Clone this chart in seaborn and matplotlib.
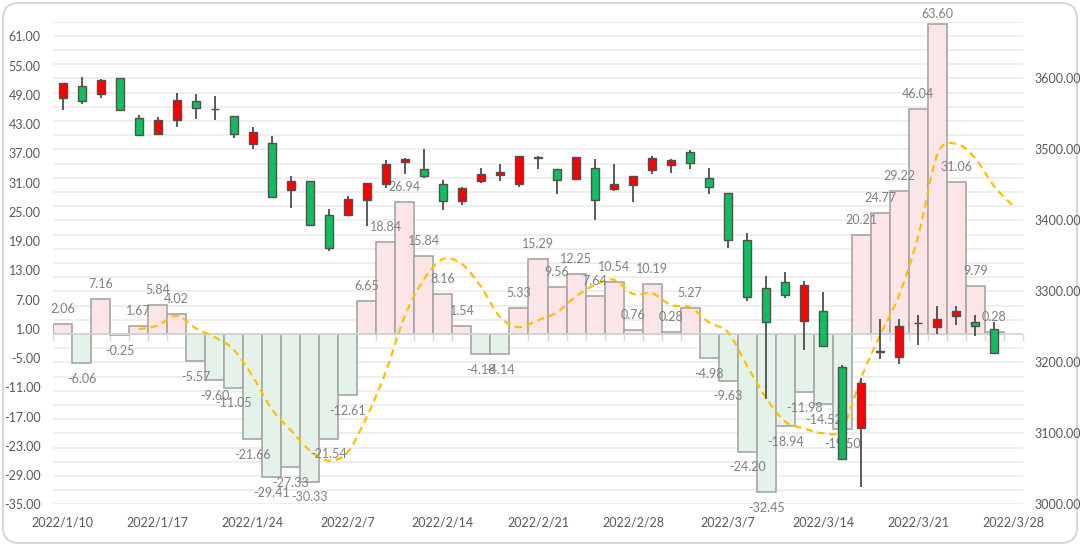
import numpy as np
import pandas as pd
import matplotlib
matplotlib.use("Agg")
import matplotlib.pyplot as plt
import seaborn as sns
from matplotlib.path import Path
from matplotlib.patches import PathPatch, FancyBboxPatch
from matplotlib.transforms import blended_transform_factory
from matplotlib.ticker import FuncFormatter

# ---------------- data ----------------
dates = ["2022/1/10", "2022/1/11", "2022/1/12", "2022/1/13", "2022/1/14",
         "2022/1/17", "2022/1/18", "2022/1/19", "2022/1/20", "2022/1/21",
         "2022/1/24", "2022/1/25", "2022/1/26", "2022/1/27", "2022/1/28",
         "2022/2/7", "2022/2/8", "2022/2/9", "2022/2/10", "2022/2/11",
         "2022/2/14", "2022/2/15", "2022/2/16", "2022/2/17", "2022/2/18",
         "2022/2/21", "2022/2/22", "2022/2/23", "2022/2/24", "2022/2/25",
         "2022/2/28", "2022/3/1", "2022/3/2", "2022/3/3", "2022/3/4",
         "2022/3/7", "2022/3/8", "2022/3/9", "2022/3/10", "2022/3/11",
         "2022/3/14", "2022/3/15", "2022/3/16", "2022/3/17", "2022/3/18",
         "2022/3/21", "2022/3/22", "2022/3/23", "2022/3/24", "2022/3/25",
         "2022/3/28"]

flow = [2.06, -6.06, 7.16, -0.25, 1.67, 5.84, 4.02, -5.57, -9.60, -11.05,
        -21.66, -29.41, -27.33, -30.33, -21.54, -12.61, 6.65, 18.84, 26.94, 15.84,
        8.16, 1.54, -4.18, -4.14, 5.33, 15.29, 9.56, 12.25, 7.64, 10.54,
        0.76, 10.19, 0.28, 5.27, -4.98, -9.63, -24.20, -32.45, -18.94, -11.98,
        -14.52, -19.50, 20.21, 24.77, 29.22, 46.04, 63.60, 31.06, 9.79, 0.28]

# 5-day average line, starting at the 5th date and running to 2022/3/28
ma_start = 4
ma5 = [0.92, 1.67, 3.69, 1.14, -0.73, -3.27, -8.77, -15.46, -19.81, -23.96,
       -26.05, -24.24, -17.03, -7.80, 3.66, 11.13, 15.29, 14.26, 9.66, 3.44,
       1.34, 2.77, 4.37, 7.66, 10.01, 11.06, 8.15, 8.28, 5.88, 5.41,
       2.30, 0.23, -6.65, -13.20, -18.04, -19.44, -20.42, -19.48, -8.95, -0.20,
       8.04, 20.15, 36.77, 38.94, 35.94, 30.15, 26.18]

open_ = [3571.9, 3589.7, 3578.0, 3600.5, 3544.3, 3521.3, 3541.9, 3568.1, 3556.4, 3546.6,
         3507.6, 3508.5, 3442.8, 3455.5, 3407.6, 3407.6, 3428.3, 3450.8, 3481.8, 3472.4,
         3451.2, 3427.2, 3455.9, 3464.3, 3451.2, 3487.8, 3472.8, 3458.2, 3473.7, 3444.6,
         3449.3, 3470.9, 3477.5, 3496.2, 3459.6, 3438.0, 3371.8, 3304.7, 3312.7, 3258.7,
         3272.8, 3193.2, 3107.6, 3215.3, 3207.3, 3254.8, 3249.7, 3265.7, 3256.7, 3247.3]
high = [3594.0, 3601.9, 3599.0, 3600.5, 3548.0, 3546.1, 3578.9, 3577.5, 3575.6, 3546.6,
        3531.1, 3518.9, 3462.5, 3455.5, 3416.5, 3433.9, 3453.0, 3484.6, 3488.4, 3500.1,
        3456.3, 3447.4, 3474.2, 3479.8, 3490.1, 3490.6, 3472.8, 3489.2, 3485.9, 3478.9,
        3462.0, 3490.6, 3485.9, 3499.5, 3474.2, 3438.0, 3382.6, 3321.2, 3326.8, 3315.0,
        3298.6, 3196.5, 3177.7, 3261.0, 3261.0, 3267.1, 3278.8, 3279.8, 3267.1, 3256.7]
low = [3555.5, 3563.5, 3571.9, 3555.0, 3519.4, 3519.9, 3531.1, 3542.4, 3541.0, 3515.7,
       3500.6, 3433.4, 3417.9, 3392.0, 3357.4, 3407.6, 3392.1, 3445.2, 3464.9, 3460.2,
       3415.0, 3421.6, 3453.0, 3454.9, 3446.5, 3471.8, 3436.6, 3458.2, 3400.0, 3440.8,
       3425.8, 3465.3, 3467.1, 3472.8, 3436.6, 3361.0, 3286.8, 3148.6, 3290.6, 3217.8,
       3223.4, 3064.4, 3023.9, 3204.5, 3197.9, 3223.8, 3239.8, 3252.0, 3237.4, 3212.5]
close = [3593.9, 3567.7, 3597.7, 3555.0, 3520.8, 3541.9, 3570.0, 3557.8, 3556.4, 3522.2,
         3524.0, 3433.4, 3455.5, 3393.5, 3361.6, 3429.7, 3452.7, 3479.9, 3486.5, 3463.0,
         3427.7, 3445.5, 3465.3, 3467.6, 3490.1, 3489.7, 3457.3, 3489.2, 3429.1, 3451.2,
         3462.0, 3488.3, 3484.5, 3480.3, 3446.9, 3371.8, 3292.0, 3256.8, 3295.3, 3308.9,
         3223.6, 3064.4, 3170.7, 3215.3, 3251.1, 3254.8, 3260.5, 3271.8, 3250.6, 3212.5]

tick_every = 5

# ---------------- style ----------------
sns.set_style("white")
plt.rcParams['font.family'] = ['Lato', 'DejaVu Sans']

TICK_COLOR = '#595959'
LABEL_COLOR = '#808080'
GRID_COLOR = '#EDEDED'

fig = plt.figure(figsize=(10.8, 5.46), dpi=100)
fig.patch.set_facecolor('white')
border = FancyBboxPatch((0.03, 0.03), 10.74, 5.40,
                        boxstyle="round,pad=0,rounding_size=0.16",
                        transform=fig.dpi_scale_trans, fc='white',
                        ec='#D6D6D6', lw=1.4, zorder=-10)
fig.patches.append(border)

ax = fig.add_axes([53 / 1080, 1 - 504.3 / 546, 970 / 1080, (504.3 - 21.7) / 546])
ax.patch.set_alpha(0)
ax2 = ax.twinx()

n = len(flow)
pos = np.arange(n)
flow_arr = np.array(flow)

# gridlines (right-axis units, every 20), drawn under the bars
grid_trans = blended_transform_factory(ax.transAxes, ax2.transData)
for v in np.arange(3000, 3681, 20):
    ax.plot([0, 1], [v, v], transform=grid_trans, color=GRID_COLOR, lw=1.3,
            zorder=0, solid_capstyle='butt')

# bars
df = pd.DataFrame({'pos': pos, 'flow': flow_arr,
                   'sign': np.where(flow_arr >= 0, 'up', 'down')})
sns.barplot(data=df, x='pos', y='flow', hue='sign',
            palette={'up': '#FFE1E4', 'down': '#E3F4E9'},
            dodge=False, width=1.0, edgecolor='#A6A6A6', linewidth=1.2,
            errorbar=None, legend=False, ax=ax, zorder=2)

# zero baseline with category tick marks
ax.axhline(0, color='#D9D9D9', lw=1.2, zorder=2.5)

# bar value labels
for i, v in enumerate(flow):
    if v >= 0:
        off = 6.5 if v < 60 else 2.5
        ax.annotate(f"{v:.2f}", xy=(i, v), xytext=(0, off), textcoords='offset points',
                    ha='center', va='bottom', fontsize=9, color=LABEL_COLOR, zorder=6)
    else:
        ax.annotate(f"{v:.2f}", xy=(i, v), xytext=(0, -7), textcoords='offset points',
                    ha='center', va='top', fontsize=9, color=LABEL_COLOR, zorder=6)

# smoothed dashed average line (Catmull-Rom as cubic Bezier)
mx = np.arange(ma_start, ma_start + len(ma5)).astype(float)
my = np.array(ma5)
pts = np.column_stack([mx, my])
verts = [tuple(pts[0])]
codes = [Path.MOVETO]
m = len(pts)
for i in range(m - 1):
    p0 = pts[i - 1] if i > 0 else pts[i]
    p1 = pts[i]
    p2 = pts[i + 1]
    p3 = pts[i + 2] if i + 2 < m else pts[i + 1]
    c1 = p1 + (p2 - p0) / 6.0
    c2 = p2 - (p3 - p1) / 6.0
    verts += [tuple(c1), tuple(c2), tuple(p2)]
    codes += [Path.CURVE4, Path.CURVE4, Path.CURVE4]
ax.add_patch(PathPatch(Path(verts, codes), fill=False, edgecolor='#FFC000',
                       lw=1.6, linestyle=(0, (3.2, 2.2)), zorder=5))

# candlesticks on the right axis
O = np.array(open_); H = np.array(high); L = np.array(low); C = np.array(close)
up = C >= O
ax2.vlines(pos, L, H, color='#404040', lw=1.2, zorder=3)
body_h = np.maximum(np.abs(C - O), 0.6)
ax2.bar(pos, body_h, bottom=np.minimum(O, C), width=0.42,
        color=np.where(up, '#FF0000', '#10BE5E'), edgecolor='#505050',
        linewidth=1.0, zorder=4)

# ---------------- axes ----------------
ax.set_xlim(-0.5, n + 0.5)
ax.set_ylim(-35, 64)
ax2.set_ylim(3000, 3680)

ax.set_xticks(np.arange(0, len(dates), tick_every))
ax.set_xticklabels(dates[::tick_every])
ax.set_yticks(np.arange(-35, 62, 6))
ax.yaxis.set_major_formatter(FuncFormatter(lambda v, p: f"{v:.2f}"))
ax2.set_yticks(np.arange(3000, 3601, 100))
ax2.yaxis.set_major_formatter(FuncFormatter(lambda v, p: f"{v:.2f}"))

ax.tick_params(axis='x', length=0, pad=9, labelsize=9, labelcolor=TICK_COLOR)
ax.tick_params(axis='y', length=0, pad=9, labelsize=9, labelcolor=TICK_COLOR)
ax2.tick_params(axis='y', length=0, pad=8, labelsize=9, labelcolor=TICK_COLOR)
ax.set_xlabel(''); ax.set_ylabel(''); ax2.set_ylabel('')
for a in (ax, ax2):
    for s in a.spines.values():
        s.set_visible(False)

sec = ax.secondary_xaxis(35 / 99)
sec.set_xticks(np.arange(-0.5, n + 1, 1))
sec.tick_params(axis='x', length=5, width=1, color='#D9D9D9', labelbottom=False,
                labeltop=False, direction='out')
for s in sec.spines.values():
    s.set_visible(False)

fig.savefig("out.png", dpi=100, facecolor='white')
